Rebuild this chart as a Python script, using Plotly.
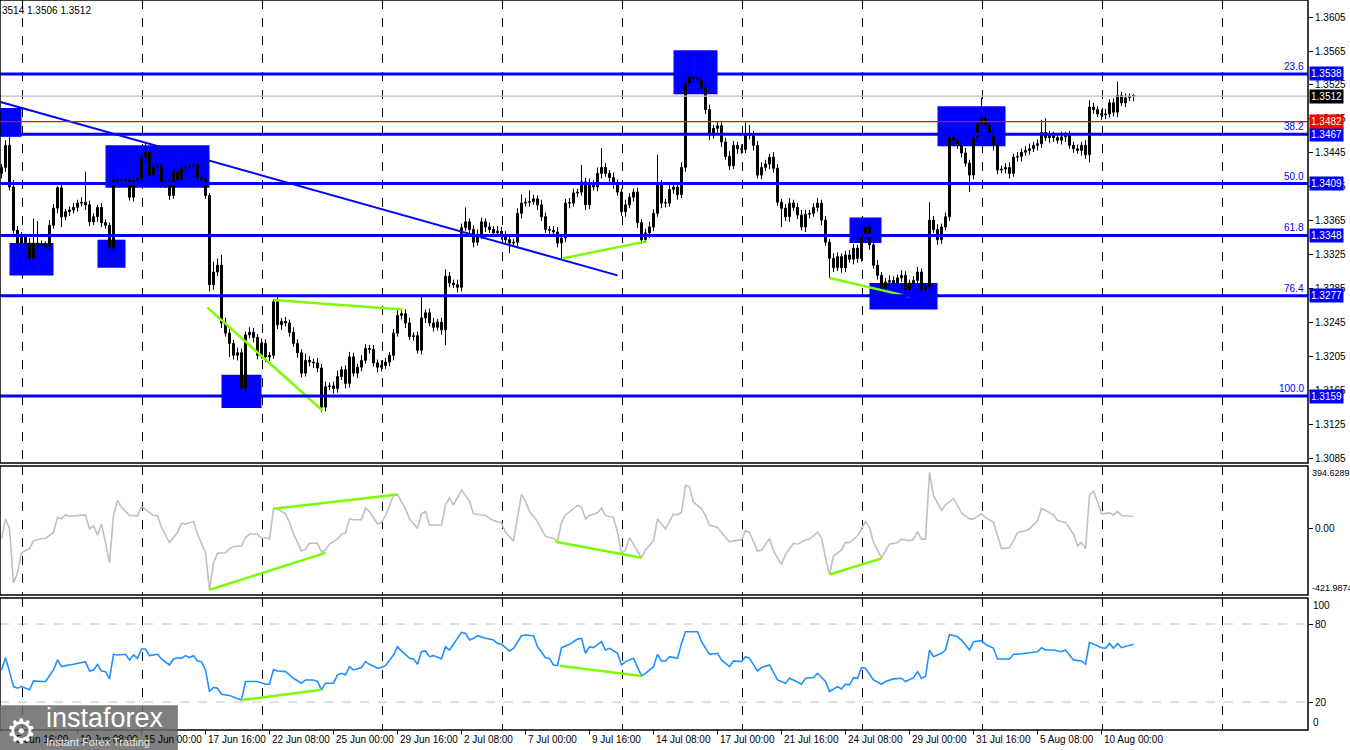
import plotly.graph_objects as go
from plotly.subplots import make_subplots

# GBP/USD H4 -- prices are kept as points above 1.3000
BASE = 1.3
first_open_pts = 421
close_pts = [
    428, 454, 405, 354, 339, 346, 339, 321, 339, 337, 337, 335, 360, 380, 404, 370, 376, 378, 381, 386,
    387, 384, 364, 370, 381, 363, 360, 333, 413, 413, 414, 413, 393, 413, 415, 440, 446, 419, 428, 430,
    410, 412, 395, 423, 414, 427, 428, 430, 431, 416, 414, 395, 290, 305, 313, 245, 233, 221, 207, 210,
    168, 231, 234, 228, 207, 221, 205, 207, 270, 243, 247, 245, 234, 221, 210, 186, 201, 199, 198, 192,
    146, 170, 171, 168, 182, 190, 174, 205, 186, 193, 201, 215, 214, 198, 193, 195, 199, 207, 233, 254,
    256, 245, 229, 230, 213, 251, 257, 245, 240, 246, 237, 300, 292, 290, 287, 357, 364, 355, 340, 349,
    364, 358, 355, 351, 353, 349, 343, 339, 340, 374, 386, 387, 388, 391, 384, 370, 355, 354, 352, 339,
    345, 386, 386, 398, 399, 411, 384, 409, 405, 421, 428, 421, 416, 409, 399, 376, 384, 393, 399, 363,
    343, 351, 358, 374, 409, 386, 386, 402, 405, 396, 428, 527, 534, 533, 531, 521, 496, 466, 474, 477,
    458, 441, 430, 454, 450, 449, 466, 467, 454, 419, 428, 432, 440, 427, 387, 380, 370, 386, 381, 372,
    358, 373, 374, 381, 386, 366, 340, 321, 310, 323, 310, 325, 320, 333, 321, 346, 358, 337, 313, 301,
    286, 293, 295, 292, 298, 301, 284, 292, 295, 305, 284, 287, 366, 355, 343, 358, 370, 463, 460, 454,
    445, 433, 419, 463, 480, 486, 478, 469, 454, 425, 426, 428, 421, 440, 441, 446, 448, 450, 454, 456,
    469, 463, 466, 463, 460, 464, 466, 454, 450, 448, 454, 443, 499, 496, 491, 490, 491, 504, 493, 513,
    504, 510, 512, 512,
]
upper_wick = [
    4, 6, 30, 8, 5, 6, 4, 6, 29, 26, 5, 4, 6, 5, 2, 4, 3, 4, 5, 4,
    6, 36, 5, 4, 3, 5, 4, 3, 14, 5, 4, 6, 5, 4, 5, 4, 11, 5, 4, 3,
    5, 4, 6, 4, 5, 16, 4, 3, 4, 5, 4, 5, 3, 12, 8, 12, 6, 5, 4, 6,
    5, 4, 6, 5, 4, 6, 5, 4, 3, 6, 4, 5, 4, 6, 5, 4, 8, 5, 4, 6,
    5, 6, 4, 5, 7, 4, 5, 6, 5, 4, 6, 5, 4, 5, 4, 6, 5, 4, 5, 6,
    4, 5, 6, 4, 5, 25, 4, 5, 6, 4, 5, 8, 5, 4, 6, 5, 17, 4, 5, 6,
    5, 4, 5, 4, 6, 5, 4, 5, 4, 6, 10, 5, 13, 5, 4, 6, 5, 4, 5, 6,
    4, 5, 6, 5, 4, 20, 5, 6, 4, 7, 23, 5, 4, 6, 5, 4, 6, 5, 4, 5,
    4, 5, 6, 5, 34, 4, 5, 6, 5, 4, 6, 8, 24, 5, 6, 4, 5, 6, 4, 5,
    4, 5, 6, 5, 4, 5, 15, 11, 4, 5, 6, 5, 4, 6, 5, 4, 5, 6, 4, 5,
    6, 5, 4, 5, 6, 4, 5, 4, 6, 5, 4, 5, 6, 5, 4, 23, 5, 4, 5, 6,
    4, 5, 6, 5, 4, 6, 5, 4, 5, 6, 4, 5, 21, 5, 6, 4, 5, 6, 5, 4,
    5, 6, 4, 5, 4, 24, 5, 4, 6, 5, 4, 5, 6, 4, 5, 4, 5, 6, 4, 5,
    15, 17, 5, 4, 5, 6, 4, 5, 4, 5, 4, 6, 8, 5, 4, 5, 6, 4, 5, 16,
    4, 5, 3, 2,
]
lower_wick = [
    6, 5, 4, 8, 20, 24, 5, 8, 16, 6, 5, 4, 5, 4, 6, 12, 4, 5, 4, 5,
    4, 6, 5, 4, 6, 5, 4, 10, 5, 4, 6, 5, 4, 5, 6, 4, 5, 6, 4, 5,
    4, 6, 5, 4, 5, 4, 6, 5, 4, 5, 6, 4, 8, 6, 5, 6, 4, 16, 5, 6,
    2, 5, 4, 6, 5, 4, 6, 5, 4, 5, 6, 4, 5, 4, 6, 5, 4, 5, 6, 5,
    6, 5, 4, 6, 5, 4, 6, 5, 4, 6, 5, 4, 5, 4, 6, 5, 4, 5, 6, 4,
    5, 6, 4, 5, 4, 5, 6, 4, 5, 4, 6, 18, 5, 4, 6, 5, 4, 5, 6, 4,
    5, 6, 4, 5, 4, 6, 5, 12, 4, 5, 6, 4, 5, 4, 6, 5, 4, 5, 6, 5,
    18, 5, 6, 4, 5, 4, 6, 5, 4, 5, 6, 4, 5, 6, 4, 5, 6, 4, 5, 6,
    5, 4, 6, 5, 4, 6, 5, 4, 5, 6, 4, 5, 4, 6, 5, 4, 5, 6, 4, 5,
    6, 4, 5, 4, 6, 5, 4, 5, 6, 4, 5, 4, 6, 5, 4, 22, 5, 6, 4, 5,
    4, 6, 5, 4, 5, 6, 4, 23, 5, 4, 6, 5, 4, 6, 5, 4, 5, 6, 4, 5,
    6, 4, 5, 6, 4, 5, 6, 5, 4, 5, 6, 4, 5, 4, 6, 5, 4, 5, 6, 4,
    5, 4, 20, 5, 6, 4, 5, 4, 6, 5, 4, 5, 6, 4, 5, 6, 4, 5, 4, 6,
    5, 4, 6, 5, 4, 5, 6, 4, 5, 4, 6, 5, 9, 5, 4, 6, 5, 4, 5, 6,
    4, 5, 4, 6,
]

# CCI vertices (bar index, value)
cci_bar = [0, 1, 2, 3, 4, 5, 7, 8, 10, 11, 13, 14, 15, 16, 17, 20, 21, 22, 23, 24,
           25, 26, 27, 28, 29, 30, 32, 33, 34, 35, 37, 38, 39, 40, 42, 44, 45, 46, 48, 49,
           51, 52, 53, 54, 56, 57, 58, 60, 61, 62, 64, 65, 66, 67, 68, 69, 71, 72, 73, 75,
           76, 77, 79, 80, 81, 82, 84, 85, 86, 87, 88, 90, 91, 92, 94, 95, 96, 98, 99, 101,
           102, 104, 105, 106, 107, 110, 111, 112, 113, 115, 116, 117, 118, 120, 121, 123, 125, 126, 128, 130,
           131, 132, 134, 136, 138, 139, 140, 141, 143, 144, 145, 146, 147, 149, 150, 151, 153, 154, 155, 156,
           157, 158, 160, 161, 163, 164, 165, 166, 168, 169, 170, 171, 172, 173, 175, 176, 177, 179, 180, 182,
           183, 185, 186, 187, 189, 190, 192, 193, 195, 196, 198, 199, 201, 202, 204, 205, 206, 207, 208, 210,
           211, 212, 214, 215, 216, 217, 218, 220, 221, 222, 224, 225, 227, 228, 229, 230, 231, 232, 233, 235,
           236, 238, 239, 240, 242, 243, 245, 246, 248, 249, 250, 252, 253, 254, 256, 257, 259, 260, 262, 263,
           264, 266, 268, 269, 270, 271, 272, 273, 274, 275, 277, 278, 279, 280, 282, 283]
cci_val = [-68, 60, -4, -346, -282, -154, -128, -79, -64, -64, -26, 70, 60, 85, 77, 81, 85, -4, 17, -43,
           28, -90, -218, 81, 177, 135, 81, 81, 77, 139, 102, 81, 81, 6, -90, -26, 32, 28, 43, -36,
           -154, -389, -218, -158, -154, -128, -115, -111, -58, -36, -36, -64, -58, -68, 124, 124, 92, 38, -36, -143,
           -133, -94, -94, -149, -137, -100, -68, -36, -30, 60, 55, 55, 128, 107, 28, 38, 81, 209, 214, 124,
           60, 0, 92, 107, 21, 21, 149, 192, 149, 241, 209, 171, 92, 85, 81, 49, 34, -26, -79, 214,
           171, 107, 43, -51, -64, -81, 38, 85, 124, 145, 135, 60, 81, 98, 128, 81, 70, -26, -158, -137,
           -58, -100, -186, -137, -79, 60, 28, -4, 92, 85, 102, 273, 263, 167, 124, 81, 21, 6, -26, -85,
           -79, -73, -15, -26, -143, -137, -64, -143, -228, -164, -94, -100, -73, -68, -26, -58, -186, -292, -175, -137,
           -90, -90, -47, -4, 43, 6, -90, -186, -143, -100, -90, -68, -79, -68, -21, -68, -68, 354, 209, 113,
           149, 188, 145, 98, 60, 60, 92, 70, 38, -47, -128, -122, -79, -26, -15, -4, 49, 128, 102, 85,
           49, 38, -36, -111, -90, -128, 209, 235, 171, 92, 98, 85, 107, 81, 77, 77]

# RSI vertices (bar index, value)
rsi_bar = [0, 1, 2, 3, 4, 5, 7, 8, 10, 11, 13, 14, 15, 16, 18, 20, 21, 22, 23, 24,
           25, 26, 27, 28, 29, 31, 32, 33, 34, 35, 36, 37, 38, 39, 40, 42, 43, 44, 45, 46,
           47, 48, 49, 50, 51, 52, 53, 54, 55, 57, 59, 60, 61, 62, 64, 66, 67, 68, 69, 71,
           72, 73, 75, 76, 78, 79, 80, 81, 83, 84, 85, 86, 87, 88, 90, 91, 92, 94, 95, 96,
           98, 99, 100, 102, 103, 104, 105, 106, 107, 108, 110, 111, 112, 113, 115, 116, 117, 118, 119, 121,
           123, 124, 125, 127, 128, 130, 131, 133, 134, 136, 137, 138, 139, 140, 142, 143, 144, 145, 146, 147,
           148, 150, 151, 152, 154, 155, 156, 158, 159, 160, 161, 163, 164, 165, 166, 167, 169, 170, 171, 174,
           175, 177, 179, 180, 182, 183, 185, 186, 187, 189, 190, 192, 194, 196, 197, 198, 200, 201, 203, 204,
           206, 207, 209, 210, 211, 212, 213, 214, 215, 216, 218, 220, 221, 223, 225, 226, 228, 229, 230, 231,
           232, 233, 235, 236, 237, 239, 240, 242, 243, 245, 246, 248, 249, 252, 253, 254, 256, 259, 260, 261,
           263, 265, 266, 268, 270, 271, 272, 273, 275, 276, 277, 278, 279, 280, 282, 283]
rsi_val = [44.7, 54.1, 43.4, 31.9, 30.6, 31.9, 29.4, 36.3, 35.8, 35.8, 44.7, 52.4, 47.2, 48.0, 49.0, 50.6, 51.1, 43.9, 44.7, 49.0,
           43.9, 43.4, 37.8, 56.7, 56.2, 56.7, 52.4, 56.2, 53.6, 60.8, 60.8, 55.7, 56.2, 56.7, 53.1, 48.5, 53.1, 54.1, 53.6, 55.7,
           54.1, 55.7, 51.6, 51.1, 44.7, 28.1, 31.2, 30.6, 26.0, 25.0, 22.5, 21.7, 35.8, 35.8, 35.8, 33.7, 33.7, 45.0, 43.9, 43.4,
           40.9, 38.3, 34.5, 37.0, 37.0, 35.8, 29.4, 34.5, 34.5, 40.9, 42.1, 40.9, 47.2, 44.7, 46.5, 51.1, 49.0, 46.0, 46.5, 48.0,
           56.2, 62.6, 59.3, 53.6, 53.1, 49.0, 58.7, 59.3, 54.9, 55.7, 53.1, 62.6, 60.0, 64.4, 73.6, 72.8, 67.7, 69.0, 71.0, 69.0,
           67.7, 65.1, 64.4, 59.3, 61.3, 71.0, 71.5, 71.0, 62.6, 54.1, 53.6, 48.5, 48.0, 61.8, 64.4, 66.4, 68.4, 69.0, 57.5, 62.6,
           61.8, 66.4, 60.0, 61.3, 57.5, 48.5, 51.1, 53.6, 46.5, 40.1, 42.1, 47.2, 56.7, 51.6, 51.6, 54.9, 53.6, 65.1, 74.1, 74.1,
           66.4, 56.7, 57.5, 52.4, 47.2, 51.6, 51.1, 54.9, 53.6, 43.9, 46.5, 48.5, 37.0, 34.5, 38.3, 37.0, 33.7, 38.3, 38.8, 42.1,
           35.8, 28.1, 31.9, 30.1, 33.7, 33.2, 38.8, 38.3, 46.5, 46.0, 37.0, 33.7, 35.8, 37.8, 38.3, 35.8, 38.8, 43.4, 38.3, 39.6,
           60.0, 54.9, 57.5, 60.0, 72.0, 70.2, 67.7, 60.0, 66.4, 67.2, 64.4, 61.3, 53.1, 53.1, 56.7, 56.7, 57.5, 58.7, 61.8, 60.0,
           60.0, 58.7, 60.0, 52.4, 51.6, 49.0, 65.9, 64.4, 61.8, 61.3, 65.1, 61.3, 65.1, 61.8, 63.8, 64.4]

# levels and axis labels
fib_levels = [1.3538, 1.3467, 1.3409, 1.3348, 1.3277, 1.3159]
fib_names = ["23.6", "38.2", "50.0", "61.8", "76.4", "100.0"]
red_level = 1.3482
bid_level = 1.3512
price_ticks = [1.3085, 1.3125, 1.3165, 1.3205, 1.3245, 1.3285, 1.3325,
               1.3365, 1.3405, 1.3445, 1.3485, 1.3525, 1.3565, 1.3605]
cci_max, cci_min = 394.6289, -421.9874
time_bars = [3, 19, 35, 51, 67, 83, 99, 115, 131, 147, 163, 179, 195, 211, 227, 243, 259, 275]
time_labels = ["5 Jun 16:00", "10 Jun 08:00", "15 Jun 00:00", "17 Jun 16:00", "22 Jun 08:00",
               "25 Jun 00:00", "29 Jun 16:00", "2 Jul 08:00", "7 Jul 00:00", "9 Jul 16:00",
               "14 Jul 08:00", "17 Jul 00:00", "21 Jul 16:00", "24 Jul 08:00", "29 Jul 00:00",
               "31 Jul 16:00", "5 Aug 08:00", "10 Aug 00:00"]

# drawn objects (bar index / price)
zones = [(-1, 5, 1.3464, 1.3498), (2, 13, 1.3301, 1.3339), (24, 31, 1.3310, 1.3343),
         (26, 52, 1.3404, 1.3454), (55, 65, 1.3145, 1.3184), (168, 179, 1.3514, 1.3566),
         (234, 251, 1.3453, 1.3500), (212, 220, 1.3339, 1.3369), (217, 234, 1.3261, 1.3292)]
trend_bars, trend_prices = [-0.25, 154], [1.3505, 1.3301]
green_price = [([51.5, 80.25], [1.3263, 1.3142]), ([68, 100.25], [1.3272, 1.3261]),
               ([140.25, 161.25], [1.3321, 1.3341]), ([207, 227], [1.3298, 1.3276])]
green_cci = [([52, 81], [-389, -155]), ([68, 99], [124, 214]),
             ([138.5, 160], [-85, -186]), ([207, 220], [-292, -190])]
green_rsi = [([60, 80], [21.5, 29.4]), ([139.5, 160], [48.0, 40.1])]

assert len(close_pts) == len(upper_wick) == len(lower_wick)
assert len(cci_bar) == len(cci_val) and len(rsi_bar) == len(rsi_val)

bars = list(range(len(close_pts)))
open_pts = [first_open_pts] + close_pts[:-1]
o = [BASE + v / 10000 for v in open_pts]
c = [BASE + v / 10000 for v in close_pts]
h = [BASE + (max(a, b) + u) / 10000 for a, b, u in zip(open_pts, close_pts, upper_wick)]
l = [BASE + (min(a, b) - d) / 10000 for a, b, d in zip(open_pts, close_pts, lower_wick)]

BLUE = "#0000FF"
GREEN = "#7CFC00"
FONT = "Liberation Sans"

fig = make_subplots(rows=3, cols=1, shared_xaxes=True)

# candles drawn MT4-style: 1px wicks, 3px bodies (white = up, black = down)
wick_x, wick_y = [], []
for i in bars:
    wick_x += [i, i, None]
    wick_y += [l[i], h[i], None]
fig.add_trace(go.Scatter(x=wick_x, y=wick_y, mode="lines", line=dict(color="black", width=1)
                         , hoverinfo="skip", showlegend=False), row=1, col=1)
for up, fill in [(True, "white"), (False, "black")]:
    idx = [i for i in bars if (c[i] >= o[i]) == up]
    fig.add_trace(go.Bar(x=idx, base=[min(o[i], c[i]) for i in idx]
                         , y=[max(abs(c[i] - o[i]), 0.00008) for i in idx]
                         , width=0.5, marker=dict(color=fill, line=dict(color="black", width=1))
                         , hoverinfo="skip", showlegend=False), row=1, col=1)

fig.add_trace(go.Scatter(x=trend_bars, y=trend_prices, mode="lines", line=dict(color=BLUE, width=2)
                         , showlegend=False), row=1, col=1)
for xs, ys in green_price:
    fig.add_trace(go.Scatter(x=xs, y=ys, mode="lines", line=dict(color=GREEN, width=2.5)
                             , showlegend=False), row=1, col=1)

fig.add_trace(go.Scatter(x=cci_bar, y=cci_val, mode="lines", line=dict(color="#C0C0C0", width=1.6)
                         , showlegend=False), row=2, col=1)
for xs, ys in green_cci:
    fig.add_trace(go.Scatter(x=xs, y=ys, mode="lines", line=dict(color=GREEN, width=2.5)
                             , showlegend=False), row=2, col=1)

fig.add_trace(go.Scatter(x=rsi_bar, y=rsi_val, mode="lines", line=dict(color="#1E90FF", width=1.6)
                         , showlegend=False), row=3, col=1)
for xs, ys in green_rsi:
    fig.add_trace(go.Scatter(x=xs, y=ys, mode="lines", line=dict(color=GREEN, width=2.5)
                             , showlegend=False), row=3, col=1)

# panels: main 0-463px, cci 466-595px, rsi 598-730px of a 730px plot height
dom_main, dom_cci, dom_rsi = [0.3658, 1.0], [0.1849, 0.3616], [0.0, 0.1808]

fig.update_layout(width=1350, height=750, margin=dict(l=0, r=42, t=0, b=20)
                  , plot_bgcolor="white", paper_bgcolor="white"
                  , font=dict(family=FONT, size=10, color="black")
                  , barmode="overlay", showlegend=False
                  , yaxis=dict(domain=dom_main, range=[1.30803, 1.3625], side="right"
                               , tickvals=price_ticks, tickformat=".4f")
                  , yaxis2=dict(domain=dom_cci, range=[cci_min, cci_max], side="right"
                                , tickvals=[0], ticktext=["0.00"])
                  , yaxis3=dict(domain=dom_rsi, range=[-1.5, 100], side="right"
                                , tickvals=[20, 80]))
# half-bar offset in the range keeps the 1px wicks on pixel centres
fig.update_xaxes(range=[-0.375, 326.625], showticklabels=False, showgrid=True, gridcolor="black"
                 , griddash="dash", gridwidth=1, tick0=5.25, dtick=30, zeroline=False, ticks="")
fig.update_yaxes(showgrid=False, zeroline=False, ticks="outside", ticklen=4, tickcolor="black"
                 , tickfont=dict(family=FONT, size=10, color="black"))

shapes = []
for x0, x1, p0, p1 in zones:
    shapes.append(dict(type="rect", xref="x", yref="y", x0=x0, x1=x1, y0=p0, y1=p1
                       , fillcolor=BLUE, line=dict(width=0), layer="between"))
for lv in fib_levels:
    shapes.append(dict(type="line", xref="paper", yref="y", x0=0, x1=1, y0=lv, y1=lv
                       , line=dict(color=BLUE, width=3), layer="above"))
shapes.append(dict(type="line", xref="paper", yref="y", x0=0, x1=1, y0=red_level, y1=red_level
                   , line=dict(color="red", width=1.2), layer="above"))
shapes.append(dict(type="line", xref="paper", yref="y", x0=0, x1=1, y0=bid_level, y1=bid_level
                   , line=dict(color="#C0C0C0", width=1.2), layer="above"))
for lv in [20, 80]:
    shapes.append(dict(type="line", xref="paper", yref="y3", x0=0, x1=1, y0=lv, y1=lv
                       , line=dict(color="#C0C0C0", width=1, dash="dash"), layer="between"))
for d in [dom_main, dom_cci, dom_rsi]:
    shapes.append(dict(type="rect", xref="paper", yref="paper", x0=0, x1=1, y0=d[0], y1=d[1]
                       , line=dict(color="black", width=1.5), layer="above"))
for b in time_bars:
    shapes.append(dict(type="line", xref="x3", yref="paper", x0=b, x1=b, y0=0, y1=-0.006
                       , line=dict(color="black", width=1)))
# watermark box
shapes.append(dict(type="rect", xref="paper", yref="paper", x0=0, x1=0.136, y0=-0.03, y1=0.034
                   , fillcolor="rgba(105,105,105,0.85)", line=dict(width=0), layer="above"))

ann = []
for lv, name in zip(fib_levels, fib_names):
    ann.append(dict(xref="paper", yref="y", x=1, y=lv, xanchor="right", yanchor="bottom", xshift=-2
                    , text=name, showarrow=False, font=dict(color=BLUE, size=10)))
    ann.append(dict(xref="paper", yref="y", x=1, y=lv, xanchor="left", xshift=1, text=f"{lv:.4f}"
                    , showarrow=False, bgcolor=BLUE, borderpad=1, font=dict(color="white", size=10)))
ann.append(dict(xref="paper", yref="y", x=1, y=red_level, xanchor="left", xshift=1, text=f"{red_level:.4f}"
                , showarrow=False, bgcolor="red", borderpad=1, font=dict(color="white", size=10)))
ann.append(dict(xref="paper", yref="y", x=1, y=bid_level, xanchor="left", xshift=1, text=f"{bid_level:.4f}"
                , showarrow=False, bgcolor="black", borderpad=1, font=dict(color="white", size=10)))
ann.append(dict(xref="paper", yref="y2", x=1, y=cci_max, xanchor="left", yanchor="top", xshift=2
                , text=f"{cci_max:.4f}", showarrow=False, font=dict(size=9)))
ann.append(dict(xref="paper", yref="y2", x=1, y=cci_min, xanchor="left", yanchor="bottom", xshift=2
                , text=f"{cci_min:.4f}", showarrow=False, font=dict(size=9)))
ann.append(dict(xref="paper", yref="y3", x=1, y=100, xanchor="left", yanchor="top", xshift=3
                , text="100", showarrow=False))
ann.append(dict(xref="paper", yref="y3", x=1, y=-1.5, xanchor="left", yanchor="bottom", xshift=3
                , text="0", showarrow=False))
for b, lab in zip(time_bars, time_labels):
    ann.append(dict(xref="x3", yref="paper", x=b, y=0, xanchor="left", yanchor="top", yshift=-2
                    , text=lab, showarrow=False))
ann.append(dict(xref="paper", yref="paper", x=0, y=1, xanchor="left", yanchor="top", yshift=-3
                , text="3514 1.3506 1.3512", showarrow=False))
ann.append(dict(xref="paper", yref="paper", x=0.003, y=-0.03, xanchor="left", yanchor="bottom"
                , text="⚙", showarrow=False, font=dict(color="white", size=34)))
ann.append(dict(xref="paper", yref="paper", x=0.034, y=0.04, xanchor="left", yanchor="top"
                , text="instaforex", showarrow=False, font=dict(color="white", size=27)))
ann.append(dict(xref="paper", yref="paper", x=0.034, y=-0.006, xanchor="left", yanchor="top"
                , text="Instant Forex Trading", showarrow=False, font=dict(color="#E6E6E6", size=11)))

fig.update_layout(shapes=shapes, annotations=ann)

# the page has a default body margin; drop it so the chart sits flush in the window
fig.write_html("out.html", config={"displayModeBar": False}
               , post_script="document.body.style.margin='0';document.body.style.overflow='hidden';")
